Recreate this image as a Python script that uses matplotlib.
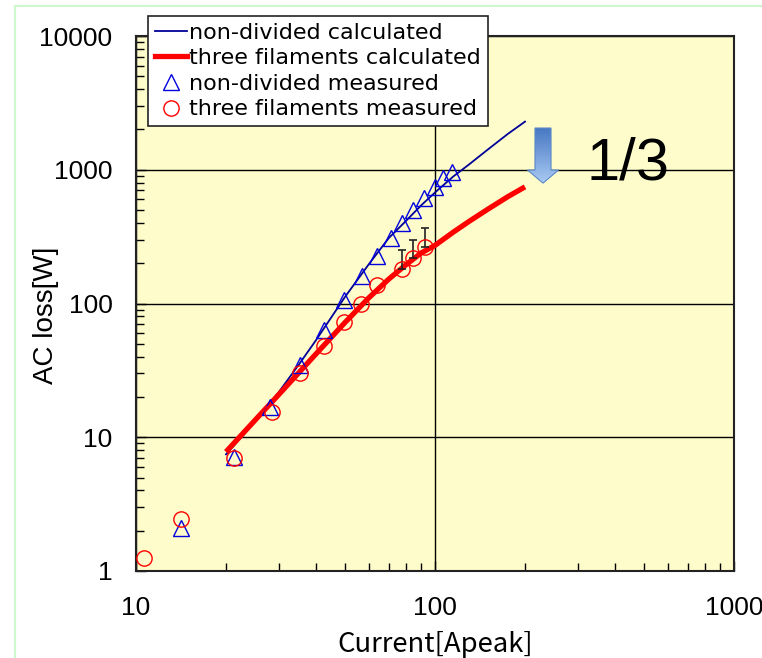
import matplotlib
matplotlib.use("Agg")
from matplotlib import pyplot as plt
from matplotlib.patches import Rectangle, Polygon
from matplotlib.lines import Line2D
from matplotlib.colors import LinearSegmentedColormap
import numpy as np

# measured points, non-divided conductor
nd_current = [14.1, 21.3, 28.1, 35.4, 42.6, 49.7, 57.0, 64.0, 71.3, 77.6, 84.4, 91.8, 100, 106, 114]
nd_loss = [2.1, 7.1, 16.8, 34.7, 63.4, 106, 160, 226, 309, 400, 500, 615, 743, 868, 962]

# measured points, three filaments
tf_current = [10.6, 14.1, 21.3, 28.5, 35.4, 42.6, 49.7, 56.6, 64.0, 77.6, 84.7, 92.5]
tf_loss = [1.25, 2.45, 7.0, 15.4, 30.2, 48.1, 72.7, 99, 137, 181, 219, 264]

# scatter of the highest three-filament points (upper side only)
err_current = [77.6, 84.7, 92.5]
err_loss = [181, 219, 264]
err_up = [70, 79, 103]

# calculated curves
calc_current = [20, 25, 30, 35, 40, 50, 60, 70, 80, 90, 100, 115, 130, 150, 175, 200]
nd_calc = [7.45, 13.0, 21.7, 34.8, 53.2, 112, 196, 308, 415, 543, 676, 889, 1096, 1413, 1849, 2290]
tf_calc = [7.78, 13.4, 20.8, 30.3, 42.0, 72.1, 110, 152, 195, 239, 272, 341, 411, 506, 628, 745]

legend_labels = ["non-divided calculated", "three filaments calculated",
                 "non-divided measured", "three filaments measured"]

W, H = 762, 658
fig = plt.figure(figsize=(W / 100, H / 100), dpi=100)
ax = fig.add_axes([136 / W, (H - 571) / H, (734 - 136) / W, (571 - 36) / H])
ax.set_facecolor("#fefccb")

# thin green frame around the slide area
fig.add_artist(Rectangle((15 / W, -0.05), 1.1, 1 - 6 / H + 0.05, transform=fig.transFigure,
                         fill=False, edgecolor="#cdf7cd", linewidth=1.5))

ax.set_xscale("log")
ax.set_yscale("log")
ax.set_xlim(10, 1000)
ax.set_ylim(1, 10000)

ax.grid(True, which="major", color="black", linewidth=1.0)
ax.set_axisbelow(True)

ax.plot(calc_current, nd_calc, color="#000099", linewidth=1.3, zorder=3)
ax.plot(calc_current, tf_calc, color="#ff0000", linewidth=3.8, zorder=3,
        solid_capstyle="butt")
ax.plot(nd_current, nd_loss, linestyle="none", marker="^", markersize=11,
        markerfacecolor="none", markeredgecolor="#0000dd", markeredgewidth=1.0, zorder=4)
ax.errorbar(err_current, err_loss, yerr=[np.zeros(len(err_up)), err_up],
            fmt="none", ecolor="#222222", elinewidth=1.2, capsize=3, capthick=1.2, zorder=4)
ax.plot(tf_current, tf_loss, linestyle="none", marker="o", markersize=11,
        markerfacecolor="none", markeredgecolor="#ff0000", markeredgewidth=1.0, zorder=5)

ax.tick_params(which="both", direction="in", top=False, right=False, colors="black")
ax.tick_params(which="major", length=7, width=1)
ax.tick_params(which="minor", length=6, width=1)
ax.tick_params(axis="x", which="major", pad=18)
ax.tick_params(axis="y", which="major", pad=17)
ax.set_xticks([10, 100, 1000], ["10", "100", "1000"])
ax.set_yticks([1, 10, 100, 1000, 10000], ["1", "10", "100", "1000", "10000"])
for lab in ax.get_xticklabels() + ax.get_yticklabels():
    lab.set_fontfamily("Liberation Sans")
    lab.set_fontsize(19)
for sp in ax.spines.values():
    sp.set_color("#222222")
    sp.set_linewidth(1.5)

ax.set_xlabel("Current[Apeak]", fontfamily="Noto Sans CJK JP", fontsize=19.8)
ax.set_ylabel("AC loss[W]", fontfamily="Liberation Sans", fontsize=20)
ax.xaxis.set_label_coords(0.5, -0.113)
ax.yaxis.set_label_coords(-0.129, 0.478)

# reduction arrow with a soft blue gradient
arrow_xy = [(0.6672, 0.828), (0.6940, 0.828), (0.6940, 0.7495), (0.7066, 0.7495),
            (0.6806, 0.725), (0.6546, 0.7495), (0.6672, 0.7495)]
arrow = Polygon(arrow_xy, closed=True, transform=ax.transAxes, facecolor="none",
                edgecolor="#5a88c8", linewidth=0.8, zorder=6)
ax.add_patch(arrow)
grad = np.linspace(0, 1, 100).reshape(-1, 1)
img = ax.imshow(grad, cmap=LinearSegmentedColormap.from_list("arrow", ["#a9c9f3", "#4577c2"]),
                extent=[0.654, 0.707, 0.828, 0.725], transform=ax.transAxes,
                aspect="auto", zorder=5)
img.set_clip_path(arrow)
ax.text(0.754, 0.731, "1/3", transform=ax.transAxes, fontfamily="Liberation Sans",
        fontsize=43, va="baseline", ha="left", zorder=6)

handles = [
    Line2D([], [], color="#000099", linewidth=1.3),
    Line2D([], [], color="#ff0000", linewidth=3.8),
    Line2D([], [], linestyle="none", marker="^", markersize=11, markerfacecolor="none",
           markeredgecolor="#0000dd"),
    Line2D([], [], linestyle="none", marker="o", markersize=11, markerfacecolor="none",
           markeredgecolor="#ff0000"),
]
leg = fig.legend(handles, legend_labels, loc="upper left",
                 bbox_to_anchor=(148 / W, 1 - 16 / H), bbox_transform=fig.transFigure,
                 prop={"family": "DejaVu Sans", "size": 16},
                 frameon=True, fancybox=False, framealpha=1, edgecolor="#222222",
                 borderpad=0.3, labelspacing=0.25, handlelength=1.45, handletextpad=0.1,
                 borderaxespad=0)
leg.get_frame().set_linewidth(1.2)

fig.savefig("out.png", dpi=100)
